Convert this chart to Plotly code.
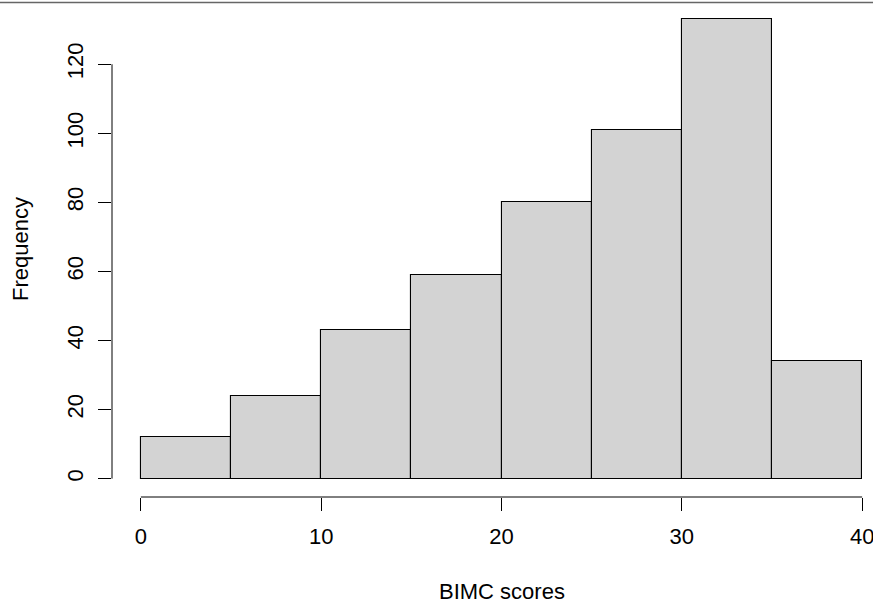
import plotly.graph_objects as go

# Data
breaks = [0, 5, 10, 15, 20, 25, 30, 35, 40]
counts = [12, 24, 43, 59, 80, 101, 133, 34]
x_ticks = [0, 10, 20, 30, 40]
y_ticks = [0, 20, 40, 60, 80, 100, 120]
x_label = "BIMC scores"
y_label = "Frequency"

mids = [(a + b) / 2 for a, b in zip(breaks[:-1], breaks[1:])]
widths = [b - a for a, b in zip(breaks[:-1], breaks[1:])]

W, H = 873, 604
ML, MR, MT, MB = 112, 0, 1, 107

# R-style 4% axis extension
xr0, xr1 = breaks[0], breaks[-1]
ext = 0.04 * (xr1 - xr0)
x_min = xr0 - ext
x_full_max = xr1 + ext
ppu = 779 / (x_full_max - x_min)  # pixels per unit in the original full plot region
x_max = x_min + (W - ML - MR) / ppu  # image is cropped at the right

yr1 = max(counts)
yext = 0.04 * yr1
y_min, y_max = -yext, yr1 + yext

font = dict(family="Liberation Sans, Arial, sans-serif", size=22, color="black")

fig = go.Figure()
fig.add_trace(go.Bar(
    x=mids, y=counts, width=widths,
    marker=dict(color="#D3D3D3", line=dict(color="black", width=1.1)),
    hoverinfo="x+y",
))

fig.update_layout(
    width=W, height=H,
    margin=dict(l=ML, r=MR, t=MT, b=MB),
    paper_bgcolor="white", plot_bgcolor="white",
    showlegend=False, font=font,
    xaxis=dict(range=[x_min, x_max], tickvals=x_ticks, ticks="outside", ticklen=13,
               tickcolor="black", tickwidth=1, showgrid=False, zeroline=False,
               showline=False, automargin=False, tickfont=font,
               ticklabeloverflow="allow", ticklabelstandoff=7),
    yaxis=dict(range=[y_min, y_max], tickvals=y_ticks, ticks="outside", ticklen=13,
               tickcolor="black", tickwidth=1, showgrid=False, zeroline=False,
               showline=False, automargin=False, tickangle=-90, tickfont=font,
               ticklabeloverflow="allow", ticklabelstandoff=6),
    bargap=0,
)

# R-style axis lines spanning only the tick range
fig.add_shape(type="line", xref="x", yref="paper", x0=x_ticks[0], x1=x_ticks[-1], y0=0, y1=0,
              line=dict(color="black", width=1))
fig.add_shape(type="line", xref="paper", yref="y", x0=0, x1=0, y0=y_ticks[0], y1=y_ticks[-1],
              line=dict(color="black", width=1))

# top border line (present in the image)
ph = H - MT - MB
fig.add_shape(type="line", xref="paper", yref="paper", x0=-1, x1=2,
              y0=(H - MB - 2.5) / ph, y1=(H - MB - 2.5) / ph,
              line=dict(color="#666666", width=1.5))

fig.add_annotation(text=x_label, xref="x", yref="paper", x=(x_min + x_full_max) / 2,
                   y=(H - MB - 591) / ph, showarrow=False, font=font, yanchor="middle")
fig.add_annotation(text=y_label, xref="paper", yref="y", x=(20 - ML) / (W - ML - MR),
                   y=(y_min + y_max) / 2, showarrow=False, font=font, textangle=-90,
                   xanchor="center", yanchor="middle")

fig.write_html("out.html")
